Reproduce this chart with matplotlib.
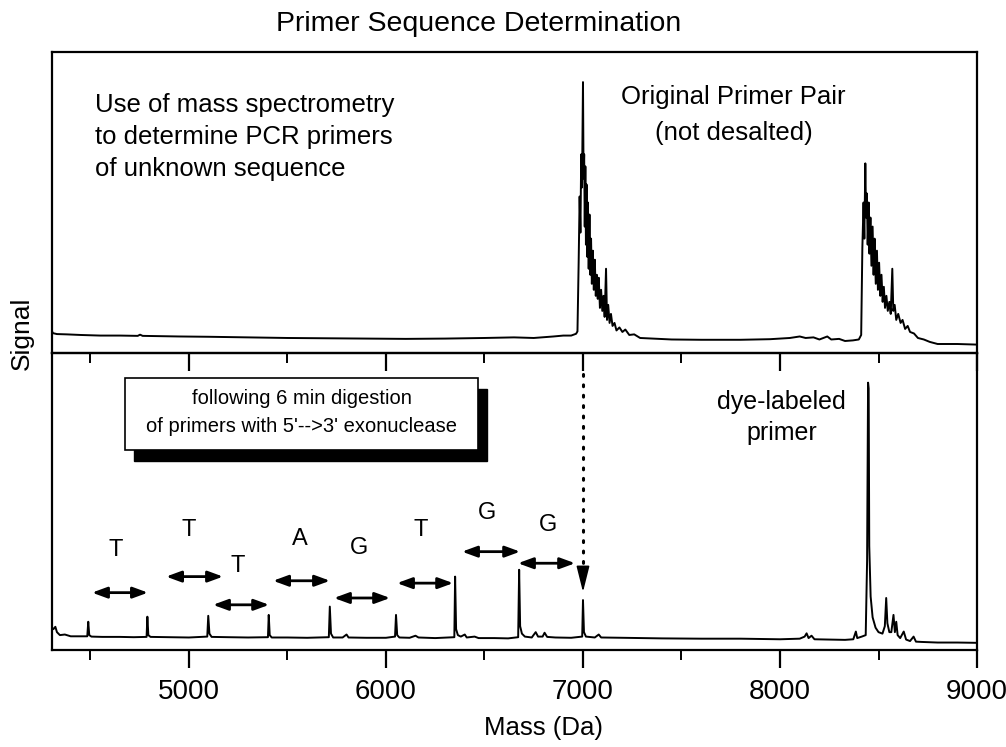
import matplotlib
matplotlib.use("Agg")
import matplotlib.pyplot as plt
import matplotlib.font_manager as fm
from matplotlib.patches import Rectangle


def pick_font(names):
    for n in names:
        try:
            fm.findfont(fm.FontProperties(family=n), fallback_to_default=False)
            return n
        except Exception:
            pass
    return "DejaVu Sans"


REG = pick_font(["Liberation Sans", "Arial", "DejaVu Sans"])
NARROW = pick_font(["Liberation Sans Narrow", "Arial Narrow", REG])
plt.rcParams["font.family"] = [REG, "DejaVu Sans"]

# ---- data ----
# upper trace: original primer pair (not desalted)
top_mass = [4305, 4310, 4330, 4380, 4450, 4550, 4650, 4740, 4752, 4765, 4850, 4950,
            5100, 5300, 5500, 5700, 5900, 6100, 6300, 6500, 6650, 6750, 6850, 6900,
            6940, 6965, 6972,
            6978, 6983, 6987, 6991, 6995, 7000, 7003, 7006, 7009, 7012, 7015, 7018,
            7021, 7025, 7029, 7033, 7037, 7041, 7045, 7050, 7055, 7060, 7065, 7070,
            7075, 7080, 7086, 7092, 7098, 7104, 7110, 7117, 7122, 7128, 7135, 7142,
            7150, 7160, 7170, 7185, 7200, 7215, 7235, 7260, 7290, 7350, 7450, 7600,
            7800, 7950, 8050, 8100, 8130, 8170, 8200, 8240, 8260, 8300, 8330, 8370,
            8400, 8412,
            8418, 8424, 8428, 8433, 8437, 8441, 8445, 8450, 8454, 8459, 8464, 8470,
            8475, 8480, 8486, 8492, 8497, 8503, 8509, 8515, 8521, 8527, 8533, 8540,
            8547, 8555, 8562, 8570, 8575, 8582, 8590, 8600, 8612, 8622, 8635, 8648,
            8660, 8680, 8700, 8730, 8760, 8800, 8900, 9000]
top_signal = [0.072, 0.066, 0.063, 0.062, 0.060, 0.058, 0.058, 0.057, 0.061, 0.057, 0.056, 0.055,
              0.054, 0.052, 0.050, 0.049, 0.048, 0.047, 0.048, 0.050, 0.052, 0.050, 0.055, 0.058,
              0.058, 0.064, 0.072,
              0.30, 0.52, 0.40, 0.66, 0.55, 0.90, 0.58, 0.66, 0.42, 0.62, 0.36, 0.56,
              0.32, 0.50, 0.28, 0.46, 0.26, 0.38, 0.23, 0.34, 0.21, 0.31, 0.19, 0.26,
              0.18, 0.25, 0.15, 0.21, 0.14, 0.19, 0.12, 0.28, 0.11, 0.16, 0.10, 0.13,
              0.09, 0.10, 0.075, 0.085, 0.07, 0.078, 0.06, 0.062, 0.050, 0.048, 0.045, 0.044,
              0.044, 0.046, 0.050, 0.055, 0.050, 0.052, 0.045, 0.055, 0.045, 0.047, 0.040, 0.042,
              0.045, 0.060,
              0.35, 0.50, 0.38, 0.63, 0.45, 0.53, 0.36, 0.50, 0.33, 0.45, 0.29, 0.42,
              0.26, 0.38, 0.23, 0.34, 0.21, 0.30, 0.19, 0.26, 0.17, 0.22, 0.15, 0.19,
              0.14, 0.17, 0.13, 0.28, 0.14, 0.16, 0.11, 0.13, 0.10, 0.11, 0.08, 0.09,
              0.07, 0.065, 0.050, 0.045, 0.037, 0.030, 0.030, 0.028]

# lower trace: after 6 min exonuclease digestion
bot_mass = [4305, 4312, 4322, 4330, 4345, 4370, 4400, 4440, 4484, 4489, 4494, 4505,
            4560, 4650, 4720, 4785, 4789, 4794, 4805, 4900, 5000, 5093, 5098, 5104,
            5115, 5200, 5300, 5401, 5405, 5410, 5420, 5500, 5600, 5710, 5715, 5721,
            5732, 5780, 5800, 5810, 5900, 6000, 6046, 6051, 6057, 6068, 6120, 6150,
            6165, 6250, 6347, 6351, 6356, 6365, 6380, 6400, 6410, 6450, 6470, 6550,
            6620, 6671, 6676, 6681, 6690, 6705, 6740, 6760, 6772, 6795, 6805, 6818,
            6860, 6940, 6996, 7000, 7005, 7015, 7060, 7080, 7092, 7200, 7400, 7600,
            7800, 8000, 8100, 8125, 8135, 8145, 8160, 8175, 8250, 8330, 8372, 8385,
            8392, 8415, 8435, 8442, 8447, 8450, 8453, 8460, 8470, 8485, 8500, 8520,
            8532, 8539, 8545, 8555, 8565, 8576, 8583, 8590, 8597, 8610, 8628, 8640,
            8660, 8678, 8690, 8720, 8800, 8900, 9000]
bot_signal = [0.075, 0.070, 0.078, 0.060, 0.050, 0.052, 0.046, 0.046, 0.046, 0.095, 0.050, 0.045,
              0.044, 0.044, 0.043, 0.044, 0.112, 0.050, 0.044, 0.043, 0.042, 0.045, 0.115, 0.055,
              0.044, 0.043, 0.042, 0.043, 0.118, 0.050, 0.042, 0.042, 0.041, 0.043, 0.146, 0.055,
              0.042, 0.042, 0.052, 0.042, 0.041, 0.041, 0.045, 0.118, 0.050, 0.042, 0.041, 0.048,
              0.042, 0.040, 0.043, 0.247, 0.070, 0.050, 0.045, 0.052, 0.042, 0.045, 0.040, 0.040,
              0.039, 0.043, 0.270, 0.080, 0.055, 0.045, 0.042, 0.060, 0.045, 0.045, 0.058, 0.044,
              0.042, 0.041, 0.045, 0.168, 0.060, 0.045, 0.042, 0.052, 0.042, 0.041, 0.039, 0.038,
              0.038, 0.036, 0.038, 0.045, 0.056, 0.040, 0.048, 0.036, 0.035, 0.034, 0.036, 0.062,
              0.040, 0.045, 0.050, 0.300, 0.900, 0.880, 0.350, 0.180, 0.110, 0.075, 0.060, 0.055,
              0.080, 0.175, 0.090, 0.060, 0.060, 0.118, 0.060, 0.095, 0.050, 0.040, 0.062, 0.035,
              0.030, 0.045, 0.028, 0.027, 0.025, 0.025, 0.024]

# nucleotide steps between ladder peaks
step_labels = ["T", "T", "T", "A", "G", "T", "G", "G"]
arrow_start = [4508, 4884, 5122, 5427, 5736, 6056, 6386, 6670]
arrow_end = [4792, 5173, 5407, 5716, 6021, 6341, 6681, 6960]
arrow_level = [0.193, 0.247, 0.152, 0.233, 0.175, 0.225, 0.331, 0.292]
label_mass = [4630, 5000, 5249, 5564, 5863, 6178, 6513, 6823]
label_level = [0.337, 0.404, 0.283, 0.374, 0.343, 0.404, 0.461, 0.421]

xlim = (4305, 9000)
major_ticks = [5000, 6000, 7000, 8000, 9000]
minor_ticks = [4500, 5500, 6500, 7500, 8500]

# ---- figure ----
fig = plt.figure(figsize=(10.06, 7.47), dpi=100)
ax_top = fig.add_axes([0.0517, 0.5274, 0.9195, 0.4030])
ax_bot = fig.add_axes([0.0517, 0.1299, 0.9195, 0.3976])
ax_bot.set_facecolor("none")

for ax in (ax_top, ax_bot):
    ax.set_xlim(*xlim)
    ax.set_ylim(0, 1)
    ax.set_yticks([])
    ax.set_xticks(major_ticks)
    ax.set_xticks(minor_ticks, minor=True)
    for s in ax.spines.values():
        s.set_linewidth(1.6)
    ax.tick_params(axis="x", which="major", direction="out", length=13, width=1.6)
    ax.tick_params(axis="x", which="minor", direction="out", length=7, width=1.4)

ax_top.tick_params(axis="x", labelbottom=False)
ax_bot.tick_params(axis="x", pad=8, labelsize=20)
for lab in ax_bot.get_xticklabels():
    lab.set_fontfamily(NARROW)

ax_top.plot(top_mass, top_signal, color="black", lw=1.4)
ax_bot.plot(bot_mass, bot_signal, color="black", lw=1.4)

# texts upper panel
ax_top.text(0.0465, 0.865, "Use of mass spectrometry\nto determine PCR primers\nof unknown sequence",
            transform=ax_top.transAxes, ha="left", va="top", fontsize=18.5, linespacing=1.42)
ax_top.text(0.737, 0.89, "Original Primer Pair\n(not desalted)", transform=ax_top.transAxes,
            ha="center", va="top", fontsize=18.5, linespacing=1.6)

# texts lower panel
ax_bot.text(0.789, 0.875, "dye-labeled\nprimer", transform=ax_bot.transAxes,
            ha="center", va="top", fontsize=18, linespacing=1.35)

# boxed note with drop shadow
bx0, by0, bw, bh = 0.0789, 0.673, 0.3816, 0.243
ax_bot.add_patch(Rectangle((bx0 + 0.0097, by0 - 0.037), bw, bh, transform=ax_bot.transAxes,
                           facecolor="black", edgecolor="black", zorder=4))
ax_bot.add_patch(Rectangle((bx0, by0), bw, bh, transform=ax_bot.transAxes,
                           facecolor="white", edgecolor="black", lw=1.2, zorder=5))
ax_bot.text(bx0 + bw / 2, by0 + bh / 2 + 0.005, "following 6 min digestion\nof primers with 5'-->3' exonuclease",
            transform=ax_bot.transAxes, ha="center", va="center", fontsize=14.5,
            linespacing=1.65, zorder=6)

# step arrows and letters
for x0, x1, lv in zip(arrow_start, arrow_end, arrow_level):
    ax_bot.annotate("", xy=(x1, lv), xytext=(x0, lv),
                    arrowprops=dict(arrowstyle="<|-|>,head_length=0.9,head_width=0.33",
                                    lw=2, color="black", shrinkA=0, shrinkB=0))
for lab, xm, lv in zip(step_labels, label_mass, label_level):
    ax_bot.text(xm, lv, lab, ha="center", va="center", fontsize=17)

# dotted link from the intact primer down to the 7000 peak
ax_bot.plot([7000, 7000], [0.93, 0.25], color="black", lw=2.2, linestyle=(0, (0.6, 2.8)),
            dash_capstyle="round")
ax_bot.annotate("", xy=(7000, 0.195), xytext=(7000, 0.26),
                arrowprops=dict(arrowstyle="-|>,head_length=1.6,head_width=0.4",
                                lw=1.2, color="black", shrinkA=0, shrinkB=0))

fig.text(0.476, 0.968, "Primer Sequence Determination", ha="center", va="center", fontsize=20.5)
fig.text(0.022, 0.554, "Signal", rotation=90, ha="center", va="center", fontsize=19)
fig.text(0.54, 0.025, "Mass (Da)", ha="center", va="center", fontsize=18.5, family=[NARROW, "DejaVu Sans"])

fig.savefig("out.png", dpi=100)
